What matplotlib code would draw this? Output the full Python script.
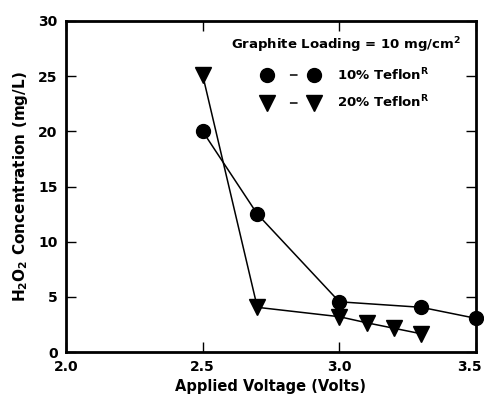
import matplotlib
matplotlib.use("Agg")
import matplotlib.pyplot as plt
import matplotlib.transforms as mtransforms
from matplotlib.lines import Line2D

# 10% Teflon (circles)
v_10 = [2.5, 2.7, 3.0, 3.3, 3.5]
c_10 = [20.0, 12.5, 4.55, 4.05, 3.05]
# 20% Teflon (triangles)
v_20 = [2.5, 2.7, 3.0, 3.1, 3.2, 3.3]
c_20 = [25.1, 4.05, 3.2, 2.65, 2.15, 1.65]

xticks = [2.0, 2.5, 3.0, 3.5]
yticks = [0, 5, 10, 15, 20, 25, 30]

plt.rcParams['font.family'] = 'DejaVu Sans'
plt.rcParams['font.weight'] = 'bold'

fig = plt.figure(figsize=(4.85, 3.94), dpi=100)
ax = fig.add_axes([66/485, 1-352/394, (476-66)/485, (352-21)/394])

ax.plot(v_10, c_10, color='black', lw=1.1, marker='o', ms=10, zorder=3, clip_on=False)
ax.plot(v_20, c_20, color='black', lw=1.1, marker='v', ms=11, zorder=3, clip_on=False)

ax.set_xlim(2.0, 3.5)
ax.set_ylim(0, 30)
ax.set_xticks(xticks)
ax.set_xticklabels([f'{t:.1f}' for t in xticks])
ax.set_yticks(yticks)
ax.tick_params(direction='in', length=7, width=1, top=True, right=True,
               labelsize=10, pad=6)
for s in ax.spines.values():
    s.set_linewidth(2)

# last x label sits at the figure edge, nudge it left a bit so it fits
last = ax.get_xticklabels()[-1]
last.set_transform(last.get_transform() +
                   mtransforms.ScaledTranslation(-7/100, 0, fig.dpi_scale_trans))

ax.set_xlabel('Applied Voltage (Volts)', fontsize=10.5, fontweight='bold', labelpad=3)
ax.set_ylabel(r'H$_\mathbf{2}$O$_\mathbf{2}$ Concentration (mg/L)', fontsize=11,
              fontweight='bold', labelpad=6)

dash = (0, (0, 15, 5, 200))
h1 = Line2D([], [], color='black', lw=1.1, ls=dash, marker='o', ms=10)
h2 = Line2D([], [], color='black', lw=1.1, ls=dash, marker='v', ms=11)
leg = ax.legend([h1, h2], [r'10% Teflon$^\mathbf{R}$', r'20% Teflon$^\mathbf{R}$'],
                title=r'Graphite Loading = 10 mg/cm$^\mathbf{2}$',
                loc='upper right', frameon=False, numpoints=2, handlelength=4.1,
                fontsize=9.5, title_fontsize=9.5, borderaxespad=0.7,
                handletextpad=1.5, labelspacing=0.85)
leg.get_title().set_fontweight('bold')

fig.savefig('out.png', dpi=100)
